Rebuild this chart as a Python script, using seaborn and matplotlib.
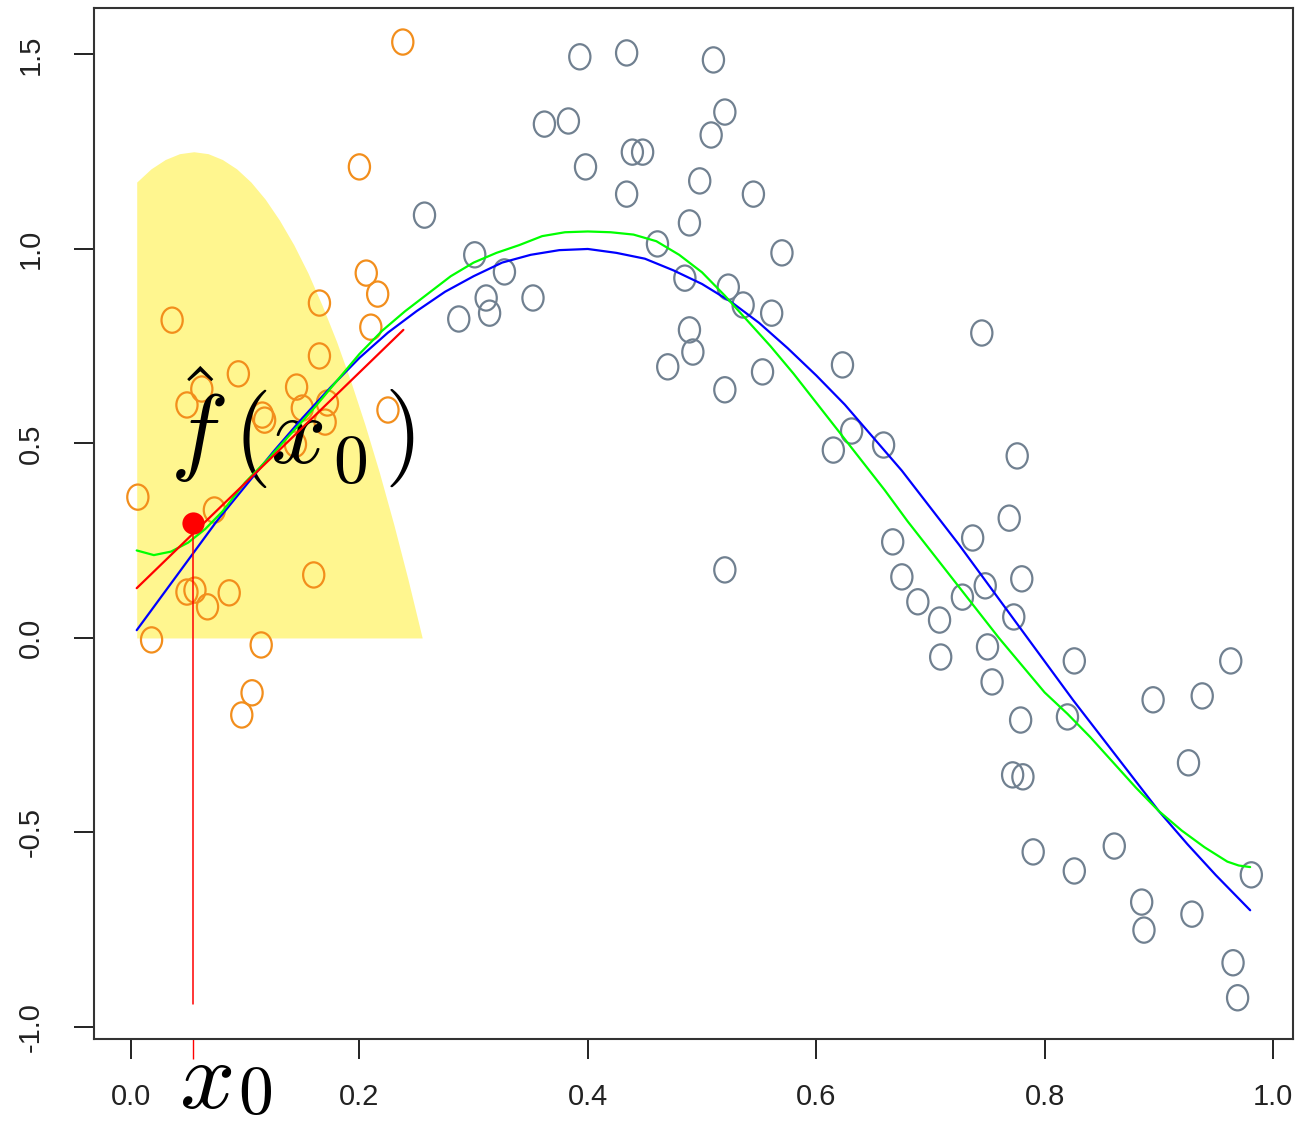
import numpy as np
import pandas as pd
import matplotlib
matplotlib.use("Agg")
import matplotlib.pyplot as plt
import seaborn as sns
from matplotlib.path import Path
from matplotlib.transforms import Affine2D, blended_transform_factory

# ---------------- data ----------------
orange_x = [0.238, 0.200, 0.036, 0.206, 0.216, 0.165, 0.210, 0.165, 0.094, 0.062,
            0.145, 0.049, 0.115, 0.117, 0.150, 0.172, 0.170, 0.225, 0.144, 0.006,
            0.073, 0.160, 0.049, 0.056, 0.086, 0.067, 0.018, 0.114, 0.106, 0.097]
orange_y = [1.532, 1.211, 0.817, 0.938, 0.884, 0.861, 0.799, 0.725, 0.679, 0.640,
            0.645, 0.599, 0.573, 0.560, 0.591, 0.604, 0.555, 0.586, 0.498, 0.362,
            0.329, 0.162, 0.118, 0.123, 0.116, 0.080, -0.005, -0.018, -0.141, -0.198]

gray_x = [0.393, 0.434, 0.510, 0.362, 0.383, 0.520, 0.508, 0.439, 0.448, 0.398,
          0.498, 0.434, 0.545, 0.257, 0.489, 0.461, 0.570, 0.301, 0.327, 0.485,
          0.523, 0.311, 0.352, 0.536, 0.561, 0.314, 0.287, 0.489, 0.492, 0.470,
          0.553, 0.520, 0.745, 0.623, 0.631, 0.615, 0.659, 0.776, 0.769, 0.737,
          0.667, 0.520, 0.675, 0.780, 0.748, 0.728, 0.689, 0.773, 0.708, 0.750,
          0.709, 0.754, 0.779, 0.826, 0.963, 0.895, 0.938, 0.820, 0.926, 0.772,
          0.781, 0.790, 0.861, 0.826, 0.981, 0.885, 0.929, 0.887, 0.965, 0.969]
gray_y = [1.494, 1.504, 1.486, 1.321, 1.329, 1.352, 1.293, 1.249, 1.249, 1.211,
          1.175, 1.141, 1.141, 1.087, 1.067, 1.013, 0.990, 0.985, 0.941, 0.925,
          0.902, 0.874, 0.874, 0.856, 0.835, 0.835, 0.820, 0.792, 0.735, 0.697,
          0.684, 0.638, 0.784, 0.702, 0.532, 0.483, 0.496, 0.468, 0.308, 0.257,
          0.247, 0.175, 0.157, 0.152, 0.134, 0.105, 0.093, 0.054, 0.046, -0.023,
          -0.049, -0.113, -0.211, -0.059, -0.059, -0.159, -0.149, -0.203, -0.321, -0.352,
          -0.357, -0.550, -0.535, -0.599, -0.609, -0.679, -0.710, -0.751, -0.835, -0.925]

# true curve (blue)
blue_x = [0.005, 0.025, 0.05, 0.075, 0.10, 0.125, 0.15, 0.175, 0.20, 0.225,
          0.25, 0.275, 0.30, 0.325, 0.35, 0.375, 0.40, 0.425, 0.45, 0.475,
          0.50, 0.525, 0.55, 0.575, 0.60, 0.625, 0.65, 0.675, 0.70, 0.725,
          0.75, 0.775, 0.80, 0.825, 0.85, 0.875, 0.90, 0.925, 0.95, 0.98]
blue_y = [0.02, 0.10, 0.20, 0.30, 0.39, 0.48, 0.565, 0.645, 0.72, 0.785,
          0.84, 0.89, 0.93, 0.965, 0.985, 0.997, 1.00, 0.99, 0.975, 0.945,
          0.91, 0.865, 0.81, 0.745, 0.675, 0.60, 0.515, 0.43, 0.335, 0.24,
          0.14, 0.04, -0.06, -0.16, -0.255, -0.35, -0.445, -0.53, -0.61, -0.70]

# local fit curve (green)
green_x = [0.005, 0.02, 0.035, 0.05, 0.065, 0.08, 0.10, 0.12, 0.14, 0.16, 0.18,
           0.20, 0.22, 0.24, 0.26, 0.28, 0.30, 0.32, 0.34, 0.36, 0.38, 0.40,
           0.42, 0.44, 0.46, 0.48, 0.50, 0.52, 0.54, 0.56, 0.58, 0.60, 0.62,
           0.64, 0.66, 0.68, 0.70, 0.72, 0.74, 0.76, 0.78, 0.80, 0.82, 0.84,
           0.86, 0.88, 0.90, 0.92, 0.94, 0.96, 0.97, 0.98]
green_y = [0.225, 0.213, 0.222, 0.245, 0.28, 0.325, 0.40, 0.46, 0.525, 0.59, 0.66,
           0.73, 0.79, 0.84, 0.885, 0.93, 0.965, 0.99, 1.01, 1.033, 1.043, 1.045,
           1.043, 1.037, 1.02, 0.985, 0.94, 0.88, 0.815, 0.75, 0.68, 0.605, 0.53,
           0.455, 0.38, 0.30, 0.225, 0.15, 0.075, 0.0, -0.07, -0.14, -0.195, -0.255,
           -0.32, -0.385, -0.445, -0.495, -0.538, -0.575, -0.585, -0.589]

# local line at x0 (red)
red_x = [0.005, 0.2385]
red_y = [0.128, 0.792]

# kernel weights (yellow region)
kern_x = [0.005, 0.0175, 0.03, 0.0425, 0.055, 0.0675, 0.08, 0.0925, 0.105, 0.1175,
          0.13, 0.1425, 0.155, 0.1675, 0.18, 0.1925, 0.205, 0.2175, 0.23, 0.2425, 0.255]
kern_h = [1.172, 1.206, 1.230, 1.245, 1.250, 1.245, 1.230, 1.206, 1.172, 1.128,
          1.074, 1.011, 0.938, 0.854, 0.762, 0.659, 0.547, 0.425, 0.293, 0.151, 0.0]

x0 = 0.0545
fhat_x0 = 0.296
x0_line_bottom = -0.94

x_ticks = [0.0, 0.2, 0.4, 0.6, 0.8, 1.0]
x_ticklabels = ["0.0", "0.2", "0.4", "0.6", "0.8", "1.0"]
y_ticks = [-1.0, -0.5, 0.0, 0.5, 1.0, 1.5]
y_ticklabels = ["-1.0", "-0.5", "0.0", "0.5", "1.0", "1.5"]

# ---------------- style ----------------
sns.set_style("white")
plt.rcParams["font.family"] = ["Liberation Sans", "DejaVu Sans"]
plt.rcParams["mathtext.fontset"] = "cm"

fig = plt.figure(figsize=(13.05, 11.3), dpi=100)
AX_L, AX_R, AX_T, AX_B = 94, 1293, 8, 1039
ax = fig.add_axes([AX_L / 1305, 1 - AX_B / 1130, (AX_R - AX_L) / 1305, (AX_B - AX_T) / 1130])

ORANGE = "#F28E1C"
GRAY = "#708090"
YELLOW = "#FFF68F"

ax.set_xlim(-0.0324, 1.0175)
ax.set_ylim(-1.031, 1.6195)

# yellow kernel region
ax.fill_between(kern_x, 0, kern_h, color=YELLOW, linewidth=0, zorder=1)

# marker shaped like the R "O"
oval = Path.unit_circle().transformed(Affine2D().scale(0.84, 1.0))

df_o = pd.DataFrame({"x": orange_x, "y": orange_y})
df_g = pd.DataFrame({"x": gray_x, "y": gray_y})
sns.scatterplot(data=df_o, x="x", y="y", ax=ax, marker=oval, s=330,
                facecolors="none", edgecolor=ORANGE, linewidths=1.6, zorder=3)
sns.scatterplot(data=df_g, x="x", y="y", ax=ax, marker=oval, s=330,
                facecolors="none", edgecolor=GRAY, linewidths=1.6, zorder=3)

# curves
sns.lineplot(x=blue_x, y=blue_y, ax=ax, color="#0000FF", linewidth=1.6,
             sort=False, estimator=None, zorder=5)
sns.lineplot(x=green_x, y=green_y, ax=ax, color="#00FF00", linewidth=1.6,
             sort=False, estimator=None, zorder=5)
sns.lineplot(x=red_x, y=red_y, ax=ax, color="#FF0000", linewidth=1.6,
             sort=False, estimator=None, zorder=6)

# vertical line at x0 and fitted point
ax.plot([x0, x0], [fhat_x0, x0_line_bottom], color="#FF0000", linewidth=1.1, zorder=6)
ax.plot([x0], [fhat_x0], marker="o", markersize=16, color="#FF0000",
        markeredgewidth=0, zorder=7)


def px2data(px, py):
    return (px - 131) / 1142.0, (638 - py) / 389.0


# f-hat(x0) label built from pieces to mimic TeX spacing
FS = 70
for txt, px, py, fs in [(r"$\hat{f}$", 170, 463, FS),
                        (r"$($", 233, 463, FS),
                        (r"$x$", 270, 463, FS),
                        (r"$0$", 333, 482, 50),
                        (r"$)$", 384, 463, FS)]:
    dx, dy = px2data(px, py)
    ax.text(dx, dy, txt, fontsize=fs, color="black", ha="left", va="baseline", zorder=4)

ax.set_xticks(x_ticks)
ax.set_xticklabels(x_ticklabels)
ax.set_yticks(y_ticks)
ax.set_yticklabels(y_ticklabels, rotation=90, va="center")
ax.set_xlabel("")
ax.set_ylabel("")

ax.tick_params(axis="both", which="major", direction="out", length=14.5,
               width=1.4, color="#222222", labelsize=21, labelcolor="#222222",
               bottom=True, left=True)
ax.tick_params(axis="x", which="major", pad=17)
ax.tick_params(axis="y", which="major", pad=21)

# red minor tick at x0
ax.set_xticks([x0], minor=True)
ax.tick_params(axis="x", which="minor", direction="out", length=14.5,
               width=1.0, color="#FF0000", bottom=True)

for sp in ax.spines.values():
    sp.set_visible(True)
    sp.set_color("#333333")
    sp.set_linewidth(1.5)

# x0 label under the axis
trans = blended_transform_factory(ax.transData, ax.transAxes)
axh = AX_B - AX_T
for txt, px, py, fs, va in [(r"$x$", 179, 1108, 70, "baseline"),
                            (r"$0$", 238, 1127, 50, "bottom")]:
    dx = (px - 131) / 1142.0
    ay = -(py - AX_B) / axh
    ax.text(dx, ay, txt, fontsize=fs, transform=trans, ha="left", va=va,
            color="black", clip_on=False)

fig.savefig("out.png", dpi=100, facecolor="white")
